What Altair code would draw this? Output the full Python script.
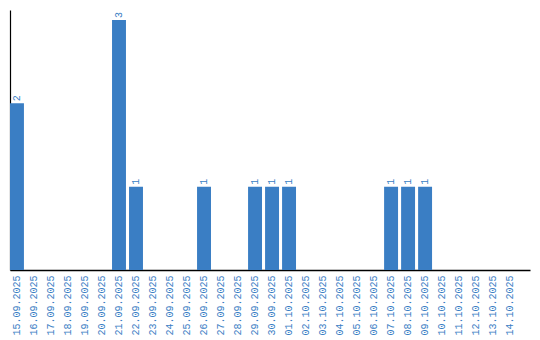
import altair as alt
import pandas as pd

dates = ["15.09.2025","16.09.2025","17.09.2025","18.09.2025","19.09.2025","20.09.2025",
         "21.09.2025","22.09.2025","23.09.2025","24.09.2025","25.09.2025","26.09.2025",
         "27.09.2025","28.09.2025","29.09.2025","30.09.2025","01.10.2025","02.10.2025",
         "03.10.2025","04.10.2025","05.10.2025","06.10.2025","07.10.2025","08.10.2025",
         "09.10.2025","10.10.2025","11.10.2025","12.10.2025","13.10.2025","14.10.2025"]
values = [2,0,0,0,0,0,3,1,0,0,0,1,0,0,1,1,1,0,0,0,0,0,1,1,1,0,0,0,0,0]

df = pd.DataFrame({"date": dates, "value": values})
df["label"] = df["value"].apply(lambda v: str(v) if v > 0 else "")

color = "#3a7ec4"
font = "Liberation Mono"

x = alt.X("date:N", sort=dates, title=None,
          scale=alt.Scale(paddingInner=0.18, paddingOuter=0.38, align=0),
          axis=alt.Axis(labelAngle=-90, labelColor=color, labelFont=font, labelFontSize=10,
                        ticks=False, labelPadding=5, domainColor="black", domainWidth=1.5,
                        labelAlign="right", labelBaseline="middle"))
y = alt.Y("value:Q", title=None, scale=alt.Scale(domain=[0, 3.12], nice=False),
          axis=alt.Axis(labels=False, ticks=False, grid=False, domainColor="black", domainWidth=1.2))

base = alt.Chart(df).encode(x=x, y=y)
bars = base.mark_bar(color=color)
text = base.mark_text(angle=270, align="left", baseline="middle", dx=2, color=color,
                      font=font, fontSize=10).encode(text="label:N")

chart = (bars + text).properties(
    width=520, height=260,
    autosize=alt.AutoSizeParams(type="none"),
    padding={"left": 10, "top": 10, "right": 10, "bottom": 70},
).configure_view(stroke=None)

chart.save("out.html", embed_options={"renderer": "svg", "actions": False})
